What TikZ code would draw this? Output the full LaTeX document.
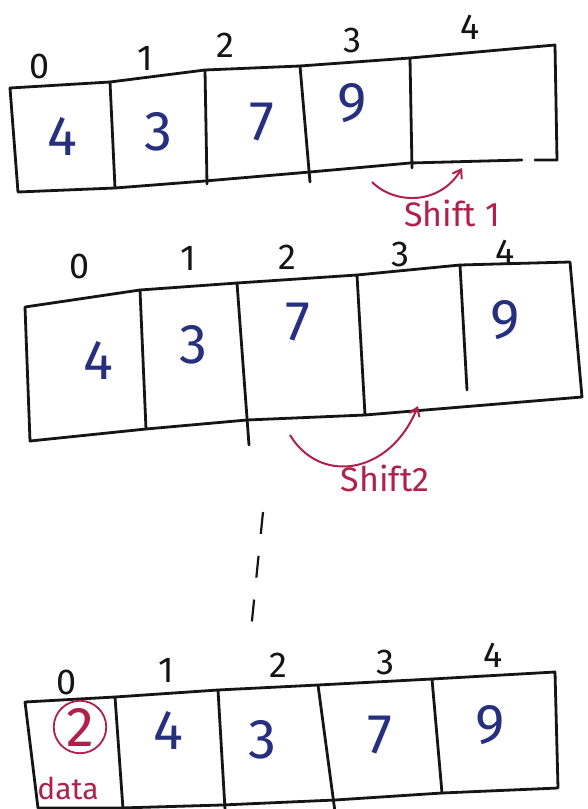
\documentclass[tikz,border=0pt]{standalone}
\usepackage{fontspec}
\setmainfont{Fira Sans}
\usetikzlibrary{arrows.meta}
\definecolor{inkblue}{HTML}{27307F}
\definecolor{inkred}{HTML}{B0204A}
\definecolor{inkblack}{HTML}{151515}
\tikzset{
  cell/.style={draw=inkblack, line width=2.8pt, line join=round, line cap=round},
  val/.style={text=inkblue, font=\fontsize{56}{56}\selectfont, inner sep=0pt},
  idx/.style={text=inkblack, font=\fontsize{36}{36}\selectfont, inner sep=0pt},
  redtxt/.style={text=inkred, font=\fontsize{34}{34}\selectfont, inner sep=0pt},
  shiftarrow/.style={draw=inkred, line width=2pt, -{Straight Barb[length=8pt,width=11pt]}},
  guide/.style={draw=inkblack, line width=2.2pt, dash pattern=on 22pt off 22pt}
}
\begin{document}
\begin{tikzpicture}[x=1pt,y=-1pt]
\useasboundingbox[fill=white] (0,0) rectangle (588,809);

% ---------- array 1 ----------
\draw[cell] (10,88) -- (110,82) -- (205,70) -- (300,66) -- (410,58) -- (555,45)
            -- (557,160) -- (535,160);
\draw[cell] (522,160) -- (410,163) -- (310,172) -- (205,181) -- (115,188) -- (18,192) -- (10,88);
\draw[cell] (110,82) -- (115,188);
\draw[cell] (205,70) -- (207,184);
\draw[cell] (300,66) -- (310,182);
\draw[cell] (410,58) -- (412,168);
\node[idx] (a0) at (40,66) {0};
\node[idx] (a1) at (145,58) {1};
\node[idx] (a2) at (225,45) {2};
\node[idx] (a3) at (352,40) {3};
\node[idx] (a4) at (470,27) {4};
\node[val] (v10) at (62,136) {4};
\node[val] (v11) at (158,132) {3};
\node[val] (v12) at (262,122) {7};
\node[val] (v13) at (352,103) {9};
\coordinate (s1a) at (372,182);
\coordinate (s1b) at (462,168);
\draw[shiftarrow] (s1a) .. controls (395,205) and (440,205) .. (s1b);
\node[redtxt] (lab1) at (452,213) {Shift 1};

% ---------- array 2 ----------
\draw[cell] (25,307) -- (140,290) -- (237,283) -- (357,275) -- (460,265) -- (570,262)
            -- (582,397) -- (365,415) -- (247,420) -- (146,429) -- (30,441) -- (25,307);
\draw[cell] (140,290) -- (146,429);
\draw[cell] (237,283) -- (249,445);
\draw[cell] (357,275) -- (365,415);
\draw[cell] (460,265) -- (467,390);
\node[idx] (b0) at (80,266) {0};
\node[idx] (b1) at (188,258) {1};
\node[idx] (b2) at (287,257) {2};
\node[idx] (b3) at (400,254) {3};
\node[idx] (b4) at (505,252) {4};
\node[val] (v20) at (98,360) {4};
\node[val] (v21) at (193,345) {3};
\node[val] (v22) at (298,322) {7};
\node[val] (v23) at (505,320) {9};
\coordinate (s2a) at (290,435);
\coordinate (s2b) at (418,406);
\draw[shiftarrow] (s2a) .. controls (320,485) and (390,475) .. (s2b);
\node[redtxt] (lab2) at (385,478) {Shift2};

% ---------- dotted continuation ----------
\coordinate (g1) at (263,512);
\coordinate (g2) at (250,640);
\draw[guide] (g1) -- (g2);

% ---------- array 3 ----------
\draw[cell] (25,702) -- (115,697) -- (218,690) -- (318,685) -- (432,679) -- (555,672)
            -- (558,788) -- (442,793) -- (335,800) -- (222,805) -- (120,808) -- (38,808) -- (25,702);
\draw[cell] (115,697) -- (123,809);
\draw[cell] (218,690) -- (225,809);
\draw[cell] (318,685) -- (335,812);
\draw[cell] (432,679) -- (442,793);
\node[idx] (c0) at (67,682) {0};
\node[idx] (c1) at (166,670) {1};
\node[idx] (c2) at (278,665) {2};
\node[idx] (c3) at (385,662) {3};
\node[idx] (c4) at (493,655) {4};
\node[val, text=inkred, draw=inkred, circle, line width=1.8pt, inner sep=2pt] (v30) at (80,727) {2};
\node[val] (v31) at (168,730) {4};
\node[val] (v32) at (262,740) {3};
\node[val] (v33) at (380,735) {7};
\node[val] (v34) at (490,725) {9};
\node[redtxt, font=\fontsize{30}{30}\selectfont] (data) at (68,788) {data};
\end{tikzpicture}
\end{document}
